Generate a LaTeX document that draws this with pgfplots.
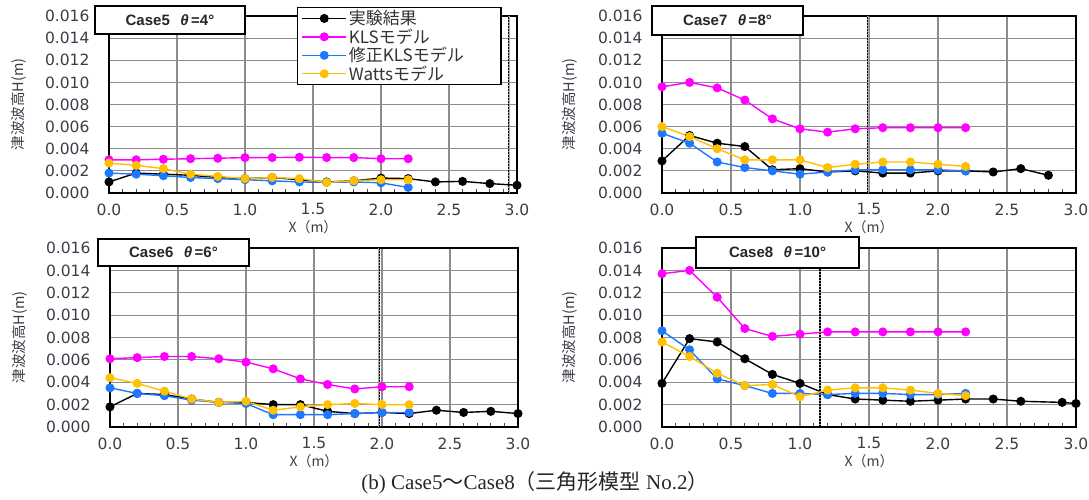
\documentclass[border=0pt]{standalone}
\usepackage{pgfplots}
\usepackage{pgfplotstable}
\pgfplotsset{compat=1.18}
\usepackage{fontspec}
\setmainfont{Liberation Serif}
\newfontfamily\jp{Noto Sans CJK JP}
\newfontfamily\numfont{DejaVu Sans}
\newfontfamily\casefont{Liberation Sans}

\definecolor{expc}{RGB}{0,0,0}
\definecolor{klsc}{RGB}{255,0,255}
\definecolor{modc}{RGB}{30,120,255}
\definecolor{wattc}{RGB}{255,192,0}
\definecolor{tickc}{RGB}{60,60,72}

% ---------- data: x (m), wave height H (m) ----------
\pgfplotstableread{
x     h
0.0   0.0010
0.2   0.0018
0.4   0.0017
0.6   0.0016
0.8   0.0014
1.0   0.0013
1.2   0.0014
1.4   0.0012
1.6   0.0010
1.8   0.0011
2.0   0.00135
2.2   0.0013
2.4   0.0010
2.6   0.00105
2.8   0.00085
3.0   0.0007
}\expfive
\pgfplotstableread{
x     kls      mod      watts
0.0   0.0030   0.0018   0.0027
0.2   0.0030   0.0017   0.0025
0.4   0.00305  0.00156  0.0022
0.6   0.0031   0.0014   0.0017
0.8   0.00314  0.0013   0.0015
1.0   0.0032   0.0012   0.0013
1.2   0.0032   0.0011   0.0014
1.4   0.00323  0.0010   0.0013
1.6   0.0032   0.00096  0.00096
1.8   0.0032   0.0010   0.0011
2.0   0.0031   0.00092  0.0012
2.2   0.0031   0.0005   0.0012
}\modfive

\pgfplotstableread{
x     h
0.0   0.0029
0.2   0.0052
0.4   0.0045
0.6   0.0042
0.8   0.0021
1.0   0.0022
1.2   0.0019
1.4   0.0020
1.6   0.0018
1.8   0.0018
2.0   0.0020
2.2   0.0020
2.4   0.0019
2.6   0.0022
2.8   0.0016
}\expseven
\pgfplotstableread{
x     kls      mod      watts
0.0   0.0096   0.0054   0.0060
0.2   0.0100   0.0045   0.0051
0.4   0.0095   0.0028   0.0040
0.6   0.0084   0.0023   0.0030
0.8   0.0067   0.0020   0.0030
1.0   0.0058   0.0017   0.0030
1.2   0.0055   0.0019   0.0023
1.4   0.0058   0.0021   0.0026
1.6   0.0059   0.0021   0.0028
1.8   0.0059   0.0021   0.0028
2.0   0.0059   0.0021   0.0026
2.2   0.0059   0.0020   0.0024
}\modseven

\pgfplotstableread{
x     h
0.0   0.0018
0.2   0.0030
0.4   0.0029
0.6   0.0025
0.8   0.0022
1.0   0.0022
1.2   0.0020
1.4   0.0020
1.6   0.0014
1.8   0.0012
2.0   0.0013
2.2   0.0012
2.4   0.0015
2.6   0.0013
2.8   0.0014
3.0   0.0012
}\expsix
\pgfplotstableread{
x     kls      mod      watts
0.0   0.0061   0.0035   0.0044
0.2   0.0062   0.0030   0.0039
0.4   0.0063   0.0028   0.0032
0.6   0.0063   0.0024   0.0025
0.8   0.0061   0.0022   0.0022
1.0   0.0058   0.0021   0.0023
1.2   0.0052   0.0011   0.0015
1.4   0.0043   0.0011   0.0018
1.6   0.0038   0.0011   0.0020
1.8   0.0034   0.0012   0.0021
2.0   0.0036   0.0013   0.0020
2.2   0.0036   0.0013   0.0020
}\modsix

\pgfplotstableread{
x     h
0.0   0.0039
0.2   0.0079
0.4   0.0076
0.6   0.0061
0.8   0.0047
1.0   0.0039
1.2   0.0029
1.4   0.0025
1.6   0.0024
1.8   0.0023
2.0   0.0024
2.2   0.0025
2.4   0.0025
2.6   0.0023
2.9   0.0022
3.0   0.0021
}\expeight
\pgfplotstableread{
x     kls      mod      watts
0.0   0.0137   0.0086   0.0076
0.2   0.0140   0.0069   0.0063
0.4   0.0116   0.0043   0.0048
0.6   0.0088   0.0037   0.0037
0.8   0.0081   0.0030   0.0038
1.0   0.0083   0.0030   0.0027
1.2   0.0085   0.0029   0.0033
1.4   0.0085   0.0030   0.0035
1.6   0.0085   0.0030   0.0035
1.8   0.0085   0.0029   0.0033
2.0   0.0085   0.0029   0.0030
2.2   0.0085   0.0030   0.0028
}\modeight

\pgfplotsset{
  panel/.style={
    scale only axis,
    xmin=0, xmax=3, ymin=0, ymax=0.016,
    xtick={0,0.5,1,1.5,2,2.5,3},
    ytick={0,0.002,0.004,0.006,0.008,0.010,0.012,0.014,0.016},
    minor xtick={0.1,0.2,0.3,0.4,0.6,0.7,0.8,0.9,1.1,1.2,1.3,1.4,1.6,1.7,1.8,1.9,2.1,2.2,2.3,2.4,2.6,2.7,2.8,2.9},
    grid=major,
    major grid style={draw=black!45, line width=1.2pt},
    major tick length=0pt, minor tick length=4pt, tick align=inside,
    xtick pos=left, ytick pos=left,
    minor tick style={black!70, line width=1pt},
    axis line style={line width=1.6pt},
    scaled y ticks=false, scaled x ticks=false,
    /pgf/number format/assume math mode=true,
    tick label style={font=\numfont\fontsize{15.5}{18}\selectfont, text=tickc},
    yticklabel style={/pgf/number format/fixed, /pgf/number format/fixed zerofill,
      /pgf/number format/precision=3, xshift=-16pt},
    xticklabel style={/pgf/number format/fixed, /pgf/number format/fixed zerofill,
      /pgf/number format/precision=1, yshift=-7pt},
    xlabel={X（m）}, ylabel={津波波高H(m)},
    every axis x label/.style={at={(axis description cs:0.5,0)}, anchor=center, yshift=-34pt,
      font=\jp\fontsize{14}{16}\selectfont, text=tickc},
    every axis y label/.style={at={(axis description cs:-0.222,0.5)}, anchor=center, rotate=90,
      font=\jp\fontsize{14.5}{16}\selectfont, text=tickc},
  },
  sexp/.style={color=expc, line width=1.4pt, mark=*, mark size=3.8pt},
  skls/.style={color=klsc, line width=1.4pt, mark=*, mark size=3.8pt},
  smod/.style={color=modc, line width=1.4pt, mark=*, mark size=3.8pt},
  swat/.style={color=wattc, line width=1.4pt, mark=*, mark size=3.8pt},
}
% dashed reference line at position #1 (m)
\newcommand{\limitline}[1]{%
  \draw[black!35, line width=2pt] (axis cs:#1,0) -- (axis cs:#1,0.016);
  \draw[black, line width=1.1pt, dash pattern=on 1.6pt off 1.4pt] (axis cs:#1,0) -- (axis cs:#1,0.016);}

\begin{document}
\begin{tikzpicture}[x=1pt,y=1pt]
\useasboundingbox (0,0) rectangle (1089,500);

% Case5  (widths are multiples of 6 so the 0.5 m grid falls on whole points)
\begin{axis}[panel, at={(109pt,307pt)}, anchor=south west, width=408pt, height=177pt,
  legend style={at={(0.4608,1.0508)}, anchor=north west, draw=black, line width=1.1pt,
    fill=white, font=\jp\fontsize{17}{19}\selectfont, text=black!80,
    inner xsep=4pt, inner ysep=1pt, row sep=-1.5pt, cells={anchor=west},
    text width=146pt},
  legend image code/.code={\draw[mark repeat=2,mark phase=2,#1]
    plot coordinates {(6pt,0pt) (28pt,0pt) (50pt,0pt)};}]
\limitline{2.94}
\addplot[sexp] table[x=x,y=h] {\expfive};
\addplot[skls] table[x=x,y=kls] {\modfive};
\addplot[smod] table[x=x,y=mod] {\modfive};
\addplot[swat] table[x=x,y=watts] {\modfive};
\legend{実験結果, KLSモデル, 修正KLSモデル, Wattsモデル}
\end{axis}

% Case7
\begin{axis}[panel, at={(662pt,307pt)}, anchor=south west, width=414pt, height=177pt]
\limitline{1.49}
\addplot[sexp] table[x=x,y=h] {\expseven};
\addplot[skls] table[x=x,y=kls] {\modseven};
\addplot[smod] table[x=x,y=mod] {\modseven};
\addplot[swat] table[x=x,y=watts] {\modseven};
\end{axis}

% Case6
\begin{axis}[panel, at={(110pt,73pt)}, anchor=south west, width=408pt, height=179pt]
\limitline{1.98}
\addplot[sexp] table[x=x,y=h] {\expsix};
\addplot[skls] table[x=x,y=kls] {\modsix};
\addplot[smod] table[x=x,y=mod] {\modsix};
\addplot[swat] table[x=x,y=watts] {\modsix};
\end{axis}

% Case8
\begin{axis}[panel, at={(662pt,73pt)}, anchor=south west, width=414pt, height=179pt]
\limitline{1.145}
\addplot[sexp] table[x=x,y=h] {\expeight};
\addplot[skls] table[x=x,y=kls] {\modeight};
\addplot[smod] table[x=x,y=mod] {\modeight};
\addplot[swat] table[x=x,y=watts] {\modeight};
\end{axis}

% case labels
\tikzset{casebox/.style={draw=black, line width=1.3pt, fill=white, inner sep=0pt,
  font=\casefont\bfseries\fontsize{15}{18}\selectfont, text=black!85}}
\node[casebox, minimum width=150pt, minimum height=28pt] at (170,480) {Case5\hspace{0.7em}\textit{θ}\,=4°};
\node[casebox, minimum width=151pt, minimum height=29pt] at (727.5,479.5) {Case7\hspace{0.7em}\textit{θ}\,=8°};
\node[casebox, minimum width=151pt, minimum height=27pt] at (173.5,247.5) {Case6\hspace{0.7em}\textit{θ}\,=6°};
\node[casebox, minimum width=163pt, minimum height=31pt] at (777.5,247.5) {Case8\hspace{0.7em}\textit{θ}\,=10°};

% caption
\node[font=\fontsize{21}{24}\selectfont, text=black!85] at (535,17)
  {(b) Case5{\jp ～}Case8{\jp （三角形模型} No.2{\jp ）}};
\end{tikzpicture}
\end{document}
